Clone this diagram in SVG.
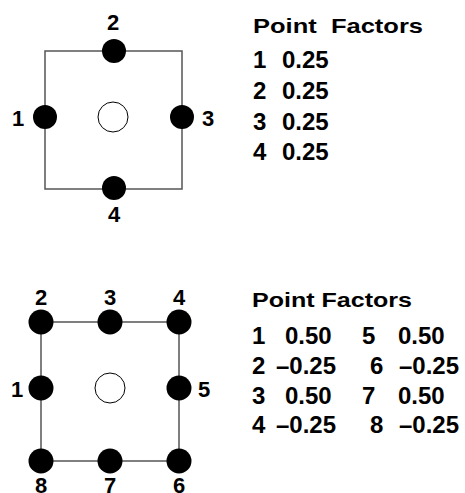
<svg xmlns="http://www.w3.org/2000/svg" width="465" height="493" viewBox="0 0 465 493">
<style>
.edge{stroke:#555;stroke-width:1.5;fill:none}
.pt{fill:#000}
.ctr{fill:#fff;stroke:#000;stroke-width:1}
.lbl{font-family:"Liberation Sans",Arial,sans-serif;font-weight:bold;font-size:22px;fill:#000}
.hdr{font-family:"Liberation Sans",Arial,sans-serif;font-weight:bold;font-size:21px;fill:#000}
.val{font-family:"Liberation Sans",Arial,sans-serif;font-weight:bold;font-size:24px;fill:#000}
</style>
<rect width="465" height="493" fill="#fff"/>
<g id="connectors">
<rect class="edge" x="45" y="51" width="137" height="138"/>
<rect class="edge" x="41" y="322" width="138" height="139"/>
</g>
<g id="top-element">
<g id="t-center"><circle class="ctr" cx="113" cy="117" r="15"/></g>
<g id="t-p1"><circle class="pt" cx="45" cy="117" r="12"/><text class="lbl" x="18" y="126" text-anchor="middle">1</text></g>
<g id="t-p2"><circle class="pt" cx="114" cy="51" r="12"/><text class="lbl" x="113" y="30" text-anchor="middle">2</text></g>
<g id="t-p3"><circle class="pt" cx="182" cy="117" r="12"/><text class="lbl" x="208" y="126" text-anchor="middle">3</text></g>
<g id="t-p4"><circle class="pt" cx="114" cy="188" r="12"/><text class="lbl" x="114" y="222" text-anchor="middle">4</text></g>
</g>
<g id="top-table">
<text class="hdr" x="253" y="33" textLength="170" lengthAdjust="spacingAndGlyphs" xml:space="preserve">Point  Factors</text>
<text class="val" x="253" y="68">1</text><text class="val" x="282" y="68">0.25</text>
<text class="val" x="253" y="99">2</text><text class="val" x="282" y="99">0.25</text>
<text class="val" x="253" y="130">3</text><text class="val" x="282" y="130">0.25</text>
<text class="val" x="253" y="160">4</text><text class="val" x="282" y="160">0.25</text>
</g>
<g id="bottom-element">
<g id="b-center"><circle class="ctr" cx="110" cy="388" r="15"/></g>
<g id="b-p1"><circle class="pt" cx="41" cy="388" r="12.5"/><text class="lbl" x="17" y="397" text-anchor="middle">1</text></g>
<g id="b-p2"><circle class="pt" cx="41" cy="322" r="12.5"/><text class="lbl" x="41" y="305" text-anchor="middle">2</text></g>
<g id="b-p3"><circle class="pt" cx="110" cy="322" r="12.5"/><text class="lbl" x="110" y="305" text-anchor="middle">3</text></g>
<g id="b-p4"><circle class="pt" cx="179" cy="322" r="12.5"/><text class="lbl" x="179" y="305" text-anchor="middle">4</text></g>
<g id="b-p5"><circle class="pt" cx="179" cy="388" r="12.5"/><text class="lbl" x="204" y="397" text-anchor="middle">5</text></g>
<g id="b-p6"><circle class="pt" cx="179" cy="461" r="12.5"/><text class="lbl" x="179" y="493" text-anchor="middle">6</text></g>
<g id="b-p7"><circle class="pt" cx="110" cy="461" r="12.5"/><text class="lbl" x="110" y="493" text-anchor="middle">7</text></g>
<g id="b-p8"><circle class="pt" cx="41" cy="461" r="12.5"/><text class="lbl" x="41" y="493" text-anchor="middle">8</text></g>
</g>
<g id="bottom-table">
<text class="hdr" x="252" y="307" textLength="160" lengthAdjust="spacingAndGlyphs">Point Factors</text>
<text class="val" x="252" y="344">1</text><text class="val" x="285" y="344">0.50</text><text class="val" x="362" y="344">5</text><text class="val" x="398" y="344">0.50</text>
<text class="val" x="252" y="374">2</text><text class="val" x="276" y="374">–0.25</text><text class="val" x="370" y="374">6</text><text class="val" x="399" y="374">–0.25</text>
<text class="val" x="252" y="404">3</text><text class="val" x="285" y="404">0.50</text><text class="val" x="362" y="404">7</text><text class="val" x="398" y="404">0.50</text>
<text class="val" x="252" y="433">4</text><text class="val" x="276" y="433">–0.25</text><text class="val" x="370" y="433">8</text><text class="val" x="399" y="433">–0.25</text>
</g>
</svg>
